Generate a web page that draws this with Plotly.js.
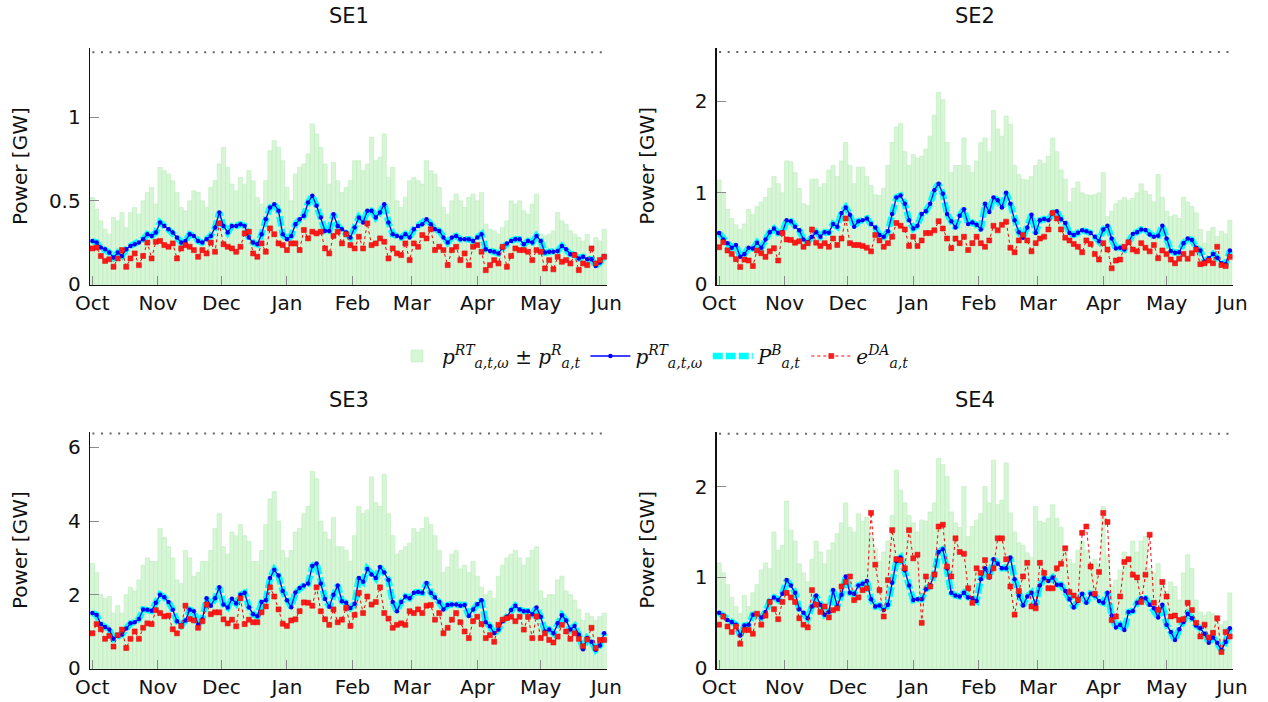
<!DOCTYPE html>
<html>
<head>
<meta charset="utf-8">
<script src="https://cdn.plot.ly/plotly-3.0.1.min.js"></script>
<style>
html,body{margin:0;padding:0;background:#fff;}
#chart{width:1268px;height:702px;}
</style>
</head>
<body>
<div id="chart"></div>
<script>
// ---- data: one sample every 2 days, from 1 Oct to 31 May ----
const startDate = '2018-10-01';
const stepDays = 2;
const nPoints = 122;

const monthTicks = ['2018-10-01','2018-11-01','2018-12-01','2019-01-01','2019-02-01','2019-03-01','2019-04-01','2019-05-01','2019-06-01'];
const monthLabels = ['Oct','Nov','Dec','Jan','Feb','Mar','Apr','May','Jun'];

const areaNames = ['SE1','SE2','SE3','SE4'];
const capacity = [1.39, 2.54, 6.38, 2.58];

// SE1
const se1_rt = [0.26,0.25,0.22,0.21,0.19,0.16,0.19,0.17,0.21,0.23,
0.24,0.25,0.27,0.30,0.29,0.31,0.37,0.35,0.33,0.31,
0.28,0.25,0.26,0.30,0.29,0.26,0.25,0.27,0.29,0.34,
0.43,0.35,0.31,0.35,0.35,0.36,0.35,0.28,0.25,0.24,
0.30,0.39,0.46,0.48,0.44,0.30,0.27,0.29,0.36,0.39,
0.41,0.49,0.53,0.47,0.40,0.32,0.32,0.42,0.35,0.33,
0.31,0.28,0.34,0.40,0.37,0.44,0.44,0.40,0.43,0.48,
0.37,0.30,0.29,0.28,0.30,0.28,0.33,0.35,0.36,0.39,
0.36,0.33,0.32,0.28,0.25,0.28,0.29,0.27,0.27,0.27,
0.26,0.28,0.30,0.21,0.20,0.195,0.185,0.22,0.245,0.26,
0.27,0.27,0.24,0.26,0.25,0.29,0.26,0.19,0.195,0.195,
0.20,0.23,0.21,0.18,0.18,0.155,0.165,0.15,0.15,0.11,
0.13,0.17];
const se1_da = [0.215,0.22,0.17,0.14,0.15,0.105,0.155,0.205,0.105,0.155,
0.185,0.115,0.17,0.25,0.155,0.255,0.26,0.235,0.225,0.245,
0.155,0.215,0.235,0.225,0.205,0.165,0.205,0.185,0.25,0.195,
0.365,0.24,0.225,0.215,0.195,0.225,0.305,0.315,0.185,0.165,
0.245,0.195,0.335,0.30,0.245,0.235,0.205,0.245,0.245,0.205,
0.325,0.275,0.315,0.305,0.315,0.215,0.185,0.29,0.315,0.245,
0.30,0.235,0.215,0.285,0.215,0.365,0.235,0.245,0.275,0.255,
0.155,0.215,0.185,0.175,0.245,0.145,0.245,0.225,0.295,0.275,
0.33,0.205,0.225,0.205,0.115,0.205,0.225,0.145,0.185,0.115,
0.225,0.235,0.195,0.085,0.115,0.145,0.125,0.225,0.105,0.17,
0.215,0.205,0.205,0.195,0.145,0.205,0.195,0.095,0.145,0.09,
0.165,0.135,0.145,0.125,0.175,0.085,0.125,0.115,0.215,0.125,
0.145,0.165];
const se1_top = [0.52,0.45,0.38,0.33,0.30,0.40,0.38,0.43,0.34,0.43,
0.46,0.42,0.50,0.55,0.58,0.48,0.70,0.68,0.66,0.62,
0.55,0.46,0.44,0.50,0.56,0.55,0.50,0.46,0.58,0.62,
0.72,0.82,0.70,0.60,0.56,0.64,0.60,0.68,0.62,0.52,
0.48,0.62,0.80,0.86,0.82,0.74,0.58,0.50,0.66,0.70,
0.72,0.78,0.96,0.90,0.82,0.72,0.60,0.73,0.62,0.55,
0.58,0.62,0.74,0.74,0.68,0.72,0.88,0.74,0.76,0.90,
0.64,0.70,0.50,0.46,0.52,0.62,0.64,0.62,0.60,0.74,
0.68,0.66,0.58,0.46,0.42,0.50,0.54,0.50,0.46,0.52,
0.54,0.50,0.55,0.36,0.33,0.32,0.30,0.34,0.38,0.50,
0.48,0.50,0.44,0.42,0.48,0.54,0.30,0.29,0.30,0.32,
0.43,0.38,0.36,0.32,0.30,0.28,0.26,0.30,0.22,0.28,
0.26,0.33];

// SE2
const se2_rt = [0.56,0.49,0.45,0.40,0.43,0.30,0.33,0.40,0.39,0.455,
0.40,0.49,0.57,0.61,0.56,0.57,0.70,0.69,0.63,0.59,
0.49,0.46,0.52,0.57,0.52,0.57,0.565,0.66,0.63,0.78,
0.84,0.76,0.63,0.69,0.70,0.72,0.66,0.62,0.54,0.52,
0.58,0.77,0.95,0.97,0.88,0.70,0.61,0.64,0.77,0.80,
0.88,1.03,1.10,0.99,0.77,0.69,0.62,0.75,0.82,0.66,
0.675,0.65,0.60,0.88,0.79,0.95,0.92,0.84,1.00,0.88,
0.70,0.57,0.51,0.62,0.76,0.56,0.70,0.715,0.70,0.78,
0.80,0.71,0.67,0.56,0.54,0.565,0.59,0.58,0.56,0.52,
0.47,0.60,0.64,0.50,0.39,0.40,0.38,0.46,0.55,0.57,
0.60,0.595,0.545,0.52,0.53,0.64,0.50,0.365,0.345,0.35,
0.45,0.50,0.485,0.40,0.37,0.25,0.285,0.33,0.29,0.23,
0.22,0.37];
const se2_da = [0.405,0.46,0.37,0.33,0.275,0.19,0.27,0.26,0.20,0.37,
0.34,0.30,0.36,0.395,0.26,0.56,0.49,0.485,0.455,0.47,
0.41,0.45,0.60,0.455,0.42,0.45,0.41,0.50,0.43,0.50,
0.72,0.45,0.43,0.43,0.42,0.40,0.36,0.54,0.48,0.41,
0.45,0.52,0.67,0.64,0.60,0.42,0.52,0.42,0.48,0.56,
0.56,0.59,0.69,0.61,0.50,0.395,0.50,0.45,0.52,0.375,
0.45,0.52,0.45,0.41,0.48,0.64,0.59,0.65,0.685,0.40,
0.35,0.48,0.54,0.48,0.36,0.45,0.50,0.52,0.60,0.78,
0.72,0.60,0.51,0.48,0.44,0.41,0.35,0.48,0.44,0.33,
0.27,0.45,0.38,0.175,0.26,0.27,0.41,0.46,0.38,0.36,
0.45,0.40,0.36,0.43,0.285,0.37,0.33,0.27,0.23,0.28,
0.33,0.28,0.34,0.38,0.22,0.23,0.26,0.23,0.41,0.21,
0.20,0.30];
const se2_top = [1.14,1.00,0.82,0.72,0.65,0.60,0.66,0.82,0.76,0.85,
0.90,0.95,1.05,1.18,1.10,1.00,1.35,1.34,1.22,1.05,
0.88,0.86,1.15,1.15,1.06,1.10,1.25,1.30,1.18,1.35,
1.55,1.30,1.10,1.28,1.28,1.18,1.08,0.98,0.97,1.05,
1.30,1.55,1.72,1.76,1.45,1.30,1.42,1.38,1.40,1.48,
1.62,1.85,2.10,2.02,1.55,1.22,1.30,1.30,1.60,1.30,
1.22,1.35,1.55,1.60,1.45,1.90,1.70,1.62,1.84,1.75,
1.30,1.20,1.15,1.14,1.18,1.30,1.36,1.32,1.40,1.60,
1.45,1.25,1.15,0.90,1.05,1.12,1.00,0.98,0.97,0.98,
1.00,1.22,0.74,0.80,0.88,0.92,0.95,0.92,0.94,1.00,
1.10,1.02,0.98,0.90,1.20,0.95,0.80,0.74,0.76,0.72,
0.95,0.90,0.85,0.78,0.60,0.45,0.58,0.62,0.52,0.58,
0.55,0.70];

// SE3
const se3_rt = [1.50,1.45,1.20,1.12,1.05,0.80,0.88,0.92,1.08,1.22,
1.25,1.34,1.60,1.59,1.56,1.78,2.00,1.93,1.80,1.59,
1.28,1.16,1.30,1.59,1.55,1.18,1.33,1.90,1.70,1.90,
2.20,1.73,1.65,1.89,1.76,2.00,2.05,1.66,1.47,1.41,
1.80,1.85,2.45,2.68,2.52,2.10,1.85,1.66,2.06,2.18,
2.25,2.30,2.78,2.85,2.30,1.88,1.67,2.00,2.25,1.82,
1.78,1.64,1.75,2.45,2.35,2.70,2.55,2.45,2.75,2.60,
2.40,1.80,1.55,1.80,1.95,1.90,2.05,2.07,2.05,2.32,
2.05,1.92,1.80,1.60,1.72,1.73,1.73,1.70,1.72,1.42,
1.60,1.74,1.85,1.25,1.14,0.95,1.05,1.28,1.40,1.58,
1.70,1.60,1.55,1.55,1.47,1.65,1.40,1.00,1.05,0.95,
1.22,1.44,1.30,1.05,1.15,0.91,0.52,0.82,0.72,0.50,
0.62,0.95];
const se3_da = [0.95,1.20,1.06,0.80,0.88,0.59,0.90,1.05,0.55,0.80,
1.00,0.80,1.10,1.22,1.20,1.58,1.50,1.41,1.43,1.06,
0.95,1.15,1.70,1.34,1.30,1.10,1.28,1.73,1.47,1.52,
1.52,1.33,1.22,1.32,1.14,1.90,1.20,1.32,1.25,1.25,
1.52,1.68,2.20,1.95,1.60,1.21,1.15,1.30,1.33,1.55,
1.79,1.78,1.70,2.20,1.55,1.33,1.18,1.60,1.25,1.32,
1.64,1.15,1.45,2.05,1.50,1.95,1.73,1.80,2.20,1.50,
1.35,1.10,1.18,1.22,1.18,1.55,1.50,1.60,1.50,1.70,
1.72,1.32,1.50,0.95,1.10,1.32,1.50,1.25,1.00,0.82,
1.28,1.40,1.20,0.82,0.90,0.72,1.18,1.32,1.36,1.40,
1.28,1.40,1.05,1.40,0.82,1.41,0.82,0.95,0.77,0.70,
0.86,1.18,1.00,0.80,0.95,0.80,0.60,0.78,1.10,0.55,
0.77,0.77];
const se3_top = [2.85,2.6,2.0,1.9,1.95,1.5,1.7,1.5,2.0,2.2,
2.1,2.4,2.8,3.0,2.9,2.9,3.8,3.55,3.3,3.0,
2.4,2.3,3.2,3.0,2.5,2.6,2.9,2.9,3.2,3.8,
4.2,3.3,3.1,3.7,3.6,3.9,3.6,3.45,2.9,2.9,
3.2,3.9,4.6,4.8,4.0,3.2,3.0,3.2,3.7,3.8,
4.2,4.4,5.35,5.15,4.0,3.7,3.5,4.1,3.3,3.3,
3.2,2.9,3.6,4.4,4.2,4.3,5.2,4.5,4.4,5.27,
4.2,3.6,3.1,3.2,3.3,3.4,3.8,3.7,3.8,4.1,
3.9,3.6,3.2,2.6,2.75,3.1,3.2,2.7,2.8,2.6,
2.9,2.5,2.2,2.0,2.1,1.9,2.5,2.8,3.0,3.1,
3.2,3.0,2.8,3.0,3.2,3.3,2.1,1.9,2.0,2.0,
2.4,2.5,2.1,2.0,1.85,1.6,1.3,1.5,1.4,1.3,
1.4,1.5];

// SE4
const se4_rt = [0.61,0.58,0.53,0.51,0.48,0.36,0.47,0.48,0.59,0.60,
0.56,0.62,0.74,0.78,0.75,0.82,0.97,0.91,0.83,0.65,
0.61,0.55,0.68,0.80,0.70,0.59,0.62,0.86,0.68,0.81,
1.01,0.83,0.82,0.91,0.93,0.96,0.76,0.68,0.69,0.64,
0.70,0.94,1.18,1.22,1.08,0.91,0.75,0.76,0.76,0.87,
0.91,1.04,1.28,1.31,1.10,0.83,0.80,0.79,0.83,0.78,
0.77,0.74,0.98,1.10,1.00,1.20,1.15,1.10,1.10,1.22,
0.98,0.80,0.69,0.79,0.83,0.70,0.91,0.99,0.96,1.00,
0.92,0.92,0.85,0.76,0.67,0.74,0.82,0.72,0.82,0.80,
0.74,0.72,0.83,0.58,0.45,0.48,0.42,0.62,0.63,0.72,
0.77,0.77,0.70,0.66,0.56,0.70,0.48,0.40,0.31,0.43,
0.51,0.60,0.55,0.47,0.44,0.38,0.28,0.34,0.28,0.20,
0.29,0.44];
const se4_da = [0.48,0.57,0.46,0.40,0.46,0.27,0.42,0.42,0.38,0.60,
0.48,0.58,0.73,0.65,0.54,0.73,0.83,0.78,0.73,0.55,
0.48,0.45,0.86,0.70,0.62,0.68,0.56,0.64,0.66,0.90,
0.95,1.01,0.75,0.78,0.86,0.88,1.71,1.14,0.86,0.57,
0.97,1.52,1.20,1.19,1.10,1.52,1.21,1.25,0.50,1.01,
0.90,1.03,1.56,1.58,1.12,1.01,1.43,1.28,1.26,0.88,
0.72,1.10,1.05,1.19,1.01,1.10,1.43,1.43,1.20,0.90,
0.59,0.85,1.01,1.16,0.68,0.66,1.16,1.05,0.88,0.88,
1.10,1.15,1.32,0.84,0.80,0.75,1.49,1.56,1.12,0.82,
1.06,1.71,1.61,0.53,0.57,0.79,1.17,1.20,1.03,1.00,
0.73,1.03,1.47,0.72,0.64,0.95,0.79,0.57,0.58,0.53,
0.54,0.72,0.64,0.50,0.35,0.48,0.34,0.39,0.55,0.18,
0.40,0.35];
const se4_top = [1.16,1.05,0.92,0.78,0.68,0.60,0.80,0.68,0.83,0.92,
1.08,1.16,1.10,1.50,1.30,1.35,1.84,1.52,1.40,1.15,
1.05,0.95,1.20,1.40,1.28,1.15,1.30,1.38,1.48,1.60,
1.82,1.55,1.50,1.70,1.62,1.66,1.45,1.32,1.18,1.28,
1.40,1.68,2.18,1.96,1.82,1.68,1.60,1.50,1.63,1.62,
1.72,1.82,2.31,2.24,2.11,1.72,1.60,1.55,2.0,1.45,
1.56,1.63,1.70,2.0,1.82,2.29,1.80,1.85,2.26,1.71,
1.50,1.38,1.35,1.27,1.22,1.78,1.62,1.60,1.65,1.80,
1.65,1.55,1.34,1.20,1.15,1.30,1.40,1.30,1.15,1.20,
1.15,1.78,1.25,0.90,0.97,1.08,1.28,1.20,1.40,1.28,
1.40,1.45,1.10,1.05,1.15,0.98,0.85,0.95,0.90,0.75,
1.05,1.25,1.10,0.75,0.62,0.58,0.62,0.60,0.57,0.48,
0.52,0.83];

const rtSeries = [se1_rt, se2_rt, se3_rt, se4_rt];
const daSeries = [se1_da, se2_da, se3_da, se4_da];
const topSeries = [se1_top, se2_top, se3_top, se4_top];

const yTicks = [[0,0.5,1],[0,1,2],[0,2,4,6],[0,1,2]];
const yTickText = [['0','0.5','1'],['0','1','2'],['0','2','4','6'],['0','1','2']];
const yRanges = [[-0.004,1.415],[-0.008,2.585],[-0.02,6.42],[-0.008,2.60]];

// ---- build ----
const dates = [];
{
  const t0 = Date.parse(startDate + 'T00:00:00Z');
  for (let i = 0; i < nPoints; i++) {
    dates.push(new Date(t0 + i * stepDays * 86400000).toISOString().slice(0,10));
  }
}

const W = 1268, H = 702;
const px = v => v / W;
const py = v => 1 - v / H;
const panels = [
  {x0: 90,    x1: 607,    y0: 48,  y1: 285},
  {x0: 716.7, x1: 1232.7, y0: 48,  y1: 285},
  {x0: 90,    x1: 607,    y0: 432, y1: 669},
  {x0: 716.7, x1: 1232.7, y0: 432, y1: 669}
];

const sansFont = 'DejaVu Sans, sans-serif';
const legendNames = [
  '<i>p</i><sup><i>RT</i></sup><sub><i>a,t,ω</i></sub> ± <i>p</i><sup><i>R</i></sup><sub><i>a,t</i></sub>',
  '<i>p</i><sup><i>RT</i></sup><sub><i>a,t,ω</i></sub>',
  '<i>P</i><sup><i>B</i></sup><sub><i>a,t</i></sub>',
  '<i>e</i><sup><i>DA</i></sup><sub><i>a,t</i></sub>'
];

const traces = [];
const layout = {
  width: W, height: H,
  margin: {l:0, r:0, t:0, b:0},
  paper_bgcolor: '#fff', plot_bgcolor: 'rgba(0,0,0,0)',
  showlegend: true,
  bargap: 0,
  hovermode: false,
  font: {family: sansFont, size: 20, color: '#111'},
  legend: {
    orientation: 'h', x: 0.515, xanchor: 'center', y: py(356), yanchor: 'middle',
    font: {family: 'DejaVu Serif, Liberation Serif, serif', size: 20, color: '#111'},
    bgcolor: 'rgba(0,0,0,0)', itemwidth: 40, tracegroupgap: 0
  },
  annotations: []
};

for (let k = 0; k < 4; k++) {
  const s = k === 0 ? '' : String(k + 1);
  const xa = 'x' + s, ya = 'y' + s;
  const first = k === 0;
  traces.push({
    type: 'bar', x: dates, y: topSeries[k], base: 0, xaxis: xa, yaxis: ya,
    marker: {color: 'rgb(214,246,214)', line: {color: 'rgb(190,236,190)', width: 0.6}},
    name: legendNames[0], showlegend: first, legendrank: 1, legendgroup: 'band'
  });
  traces.push({
    type: 'scatter', mode: 'lines', x: [dates[0], dates[nPoints-1]], y: [capacity[k], capacity[k]],
    xaxis: xa, yaxis: ya, line: {color: '#666', width: 2, dash: '2px,6.6px'},
    showlegend: false
  });
  traces.push({
    type: 'scatter', mode: 'lines', x: dates, y: rtSeries[k], xaxis: xa, yaxis: ya,
    line: {color: '#00ffff', width: 6.5, dash: '10px,3px'},
    name: legendNames[2], showlegend: first, legendrank: 3, legendgroup: 'pb'
  });
  traces.push({
    type: 'scatter', mode: 'lines+markers', x: dates, y: rtSeries[k], xaxis: xa, yaxis: ya,
    line: {color: '#0000ff', width: 1.3}, marker: {color: '#0000ff', size: 4.5},
    name: legendNames[1], showlegend: first, legendrank: 2, legendgroup: 'rt'
  });
  traces.push({
    type: 'scatter', mode: 'lines+markers', x: dates, y: daSeries[k], xaxis: xa, yaxis: ya,
    line: {color: '#ff0000', width: 1, dash: 'dot'},
    marker: {color: '#ff1a1a', size: 5, symbol: 'square', line: {color: '#e00000', width: 0.5}},
    name: legendNames[3], showlegend: first, legendrank: 4, legendgroup: 'da'
  });

  const p = panels[k];
  layout['xaxis' + s] = {
    domain: [px(p.x0), px(p.x1)], anchor: ya, type: 'date',
    range: ['2018-09-29T21:00:00', '2019-06-01T08:00:00'],
    tickmode: 'array', tickvals: monthTicks, ticktext: monthLabels,
    ticks: 'inside', ticklen: 9, tickcolor: '#8a8a8a', tickwidth: 1,
    showline: true, linecolor: '#111', linewidth: 1.3, mirror: false,
    showgrid: false, zeroline: false,
    tickfont: {family: sansFont, size: 20, color: '#111'}
  };
  layout['yaxis' + s] = {
    domain: [py(p.y1), py(p.y0)], anchor: xa, range: yRanges[k],
    tickmode: 'array', tickvals: yTicks[k], ticktext: yTickText[k],
    ticks: 'inside', ticklen: 9, tickcolor: '#8a8a8a', tickwidth: 1,
    showline: true, linecolor: '#111', linewidth: 1.3, mirror: false,
    showgrid: false, zeroline: false, ticklabelstandoff: 4,
    tickfont: {family: sansFont, size: 20, color: '#111'}
  };
  layout.annotations.push({
    xref: 'paper', yref: 'paper', x: px((p.x0 + p.x1) / 2), y: py(p.y0 - 32),
    text: areaNames[k], showarrow: false, xanchor: 'center', yanchor: 'middle',
    font: {family: sansFont, size: 21, color: '#111'}
  });
  layout.annotations.push({
    xref: 'paper', yref: 'paper', x: px(p.x0 - 70), y: py(p.y0 + 118),
    text: 'Power [GW]', textangle: -90, showarrow: false, xanchor: 'center', yanchor: 'middle',
    font: {family: sansFont, size: 20, color: '#111'}
  });
}

Plotly.newPlot('chart', traces, layout, {displayModeBar: false, staticPlot: true});
</script>
</body>
</html>
